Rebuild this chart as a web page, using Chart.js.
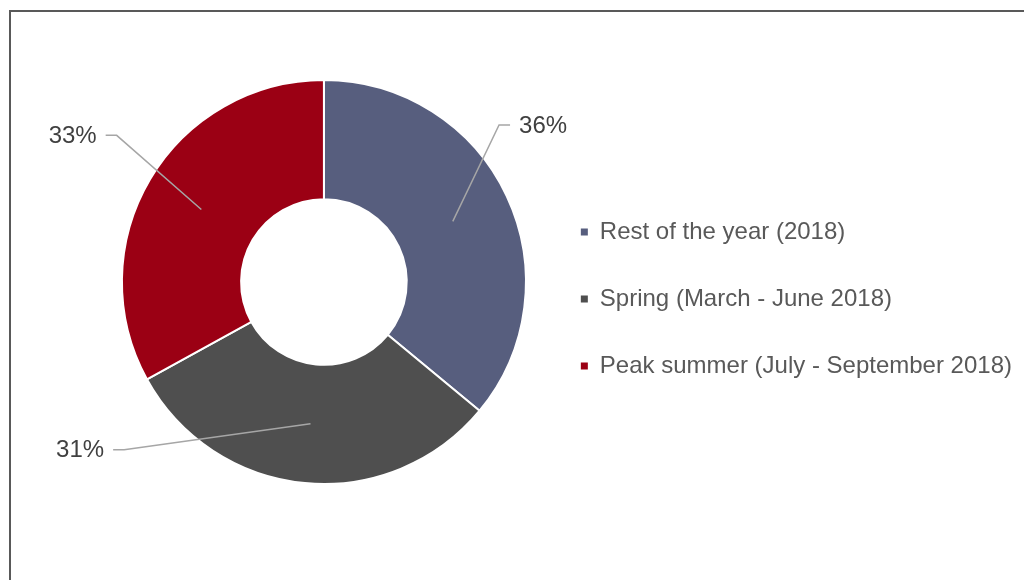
<!DOCTYPE html>
<html>
<head>
<meta charset="utf-8">
<script src="https://cdn.jsdelivr.net/npm/chart.js@4/dist/chart.umd.min.js"></script>
<style>
  html, body { margin: 0; padding: 0; background: #ffffff; overflow: hidden; width: 1024px; height: 580px; }
  #frame { position: absolute; left: 9px; top: 10px; width: 1100px; height: 700px; border: 2px solid #595959; box-sizing: border-box; }
  #c { position: absolute; left: 0; top: 0; }
</style>
</head>
<body>
<div id="frame"></div>
<canvas id="c" width="1024" height="580"></canvas>
<script>
// ---- data ----
const categories = ['Rest of the year (2018)', 'Spring (March - June 2018)', 'Peak summer (July - September 2018)'];
const shares = [36, 31, 33];
const sliceColors = ['#575E7E', '#4F4F4F', '#9B0014'];
// leader-line elbow positions, in units of the outer radius, relative to the centre
const labelAnchors = [[0.867, -0.777], [-0.989, 0.831], [-1.026, -0.726]];

const FONT = '"Liberation Sans", Arial, Helvetica, sans-serif';

const leaderLabels = {
  id: 'leaderLabels',
  afterDatasetsDraw(chart) {
    const ctx = chart.ctx;
    const meta = chart.getDatasetMeta(0);
    const total = shares.reduce((a, b) => a + b, 0);
    meta.data.forEach((arc, i) => {
      const { x, y, outerRadius } = arc.getProps(['x', 'y', 'outerRadius'], true);
      const start = arc.getCenterPoint(true);
      const [ax, ay] = labelAnchors[i];
      const ex = x + outerRadius * ax;
      const ey = y + outerRadius * ay;
      const dir = ax >= 0 ? 1 : -1;
      const hx = ex + dir * 11;
      ctx.save();
      ctx.strokeStyle = '#A6A6A6';
      ctx.lineWidth = 1.5;
      ctx.beginPath();
      ctx.moveTo(start.x, start.y);
      ctx.lineTo(ex, ey);
      ctx.lineTo(hx, ey);
      ctx.stroke();
      ctx.fillStyle = '#404040';
      ctx.font = '24px ' + FONT;
      ctx.textBaseline = 'middle';
      ctx.textAlign = dir > 0 ? 'left' : 'right';
      const pct = Math.round(shares[i] / total * 100) + '%';
      ctx.fillText(pct, hx + dir * 9, ey + 1);
      ctx.restore();
    });
  }
};

new Chart(document.getElementById('c'), {
  type: 'doughnut',
  data: {
    labels: categories,
    datasets: [{
      data: shares,
      backgroundColor: sliceColors,
      borderColor: '#ffffff',
      borderWidth: 2,
      hoverOffset: 0
    }]
  },
  options: {
    responsive: false,
    animation: false,
    devicePixelRatio: 1,
    cutout: '41%',
    layout: { padding: { left: 110, right: 2, top: 79, bottom: 95 } },
    plugins: {
      tooltip: { enabled: false },
      legend: {
        position: 'right',
        maxWidth: 700,
        title: { display: true, text: ' ', padding: { top: 5, bottom: 5 }, font: { size: 20, lineHeight: 1.2, family: FONT } },
        labels: {
          boxWidth: 7,
          boxHeight: 7,
          padding: 43,
          color: '#595959',
          font: { size: 24, family: FONT },
          generateLabels(chart) {
            return Chart.overrides.doughnut.plugins.legend.labels.generateLabels(chart)
              .map(l => Object.assign(l, { lineWidth: 0, strokeStyle: 'rgba(0,0,0,0)' }));
          }
        }
      }
    }
  },
  plugins: [leaderLabels]
});
</script>
</body>
</html>
